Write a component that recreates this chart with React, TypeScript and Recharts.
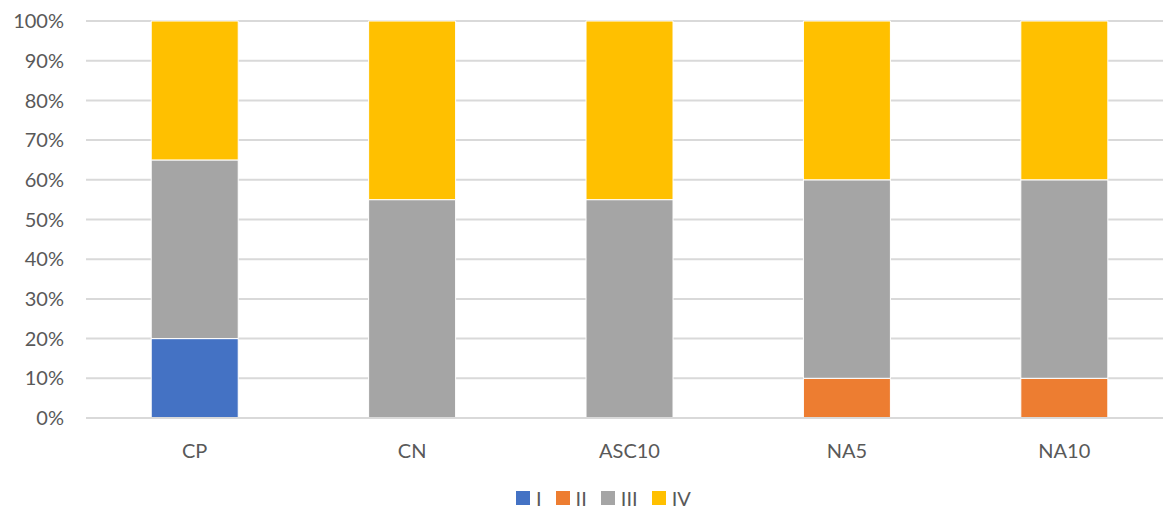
import React from "react";
import { BarChart, Bar, XAxis, YAxis, CartesianGrid, Legend } from "recharts";

const CATEGORIES = ["CP", "CN", "ASC10", "NA5", "NA10"];
const SERIES_I = [20, 0, 0, 0, 0];
const SERIES_II = [0, 0, 0, 10, 10];
const SERIES_III = [45, 55, 55, 50, 50];
const SERIES_IV = [35, 45, 45, 40, 40];
const Y_TICKS = [0, 10, 20, 30, 40, 50, 60, 70, 80, 90, 100];

const SERIES = [
  { key: "I", color: "#4472c4" },
  { key: "II", color: "#ed7d31" },
  { key: "III", color: "#a5a5a5" },
  { key: "IV", color: "#ffc000" },
];

const data = CATEGORIES.map((name, i) => ({
  name,
  I: SERIES_I[i],
  II: SERIES_II[i],
  III: SERIES_III[i],
  IV: SERIES_IV[i],
}));

const FONT = "Lato, 'Open Sans', sans-serif";
const TEXT = "#595959";

function LegendBox() {
  return (
    <div style={{ display: "flex", fontFamily: FONT, fontSize: 20, color: TEXT }}>
      {SERIES.map((s, i) => (
        <div
          key={s.key}
          style={{ display: "flex", alignItems: "center", marginRight: i < SERIES.length - 1 ? 14 : 0 }}
        >
          <span style={{ width: 14, height: 14, background: s.color, display: "inline-block", marginRight: 6 }} />
          <span>{s.key}</span>
        </div>
      ))}
    </div>
  );
}

export default function App() {
  return (
    <BarChart
      width={1163}
      height={503}
      data={data}
      margin={{ top: 13, right: -2, left: 0, bottom: 0 }}
      barCategoryGap="30%"
      style={{ fontFamily: FONT }}
    >
      <CartesianGrid vertical={false} stroke="#d9d9d9" strokeWidth={2} />
      <XAxis
        dataKey="name"
        axisLine={{ stroke: "#d9d9d9", strokeWidth: 2 }}
        tickLine={false}
        tickSize={0}
        tickMargin={26}
        height={69}
        tick={{ fill: TEXT, fontSize: 20 }}
      />
      <YAxis
        domain={[0, 100]}
        ticks={Y_TICKS}
        interval={0}
        axisLine={false}
        tickLine={false}
        tickSize={0}
        tickMargin={22}
        width={78}
        tickFormatter={(v) => `${v}%`}
        tick={{ fill: TEXT, fontSize: 20 }}
      />
      <Legend
        verticalAlign="bottom"
        content={() => <LegendBox />}
        wrapperStyle={{ top: 478, left: 508, width: "auto" }}
      />
      {SERIES.map((s) => (
        <Bar
          key={s.key}
          dataKey={s.key}
          stackId="a"
          fill={s.color}
          stroke="#ffffff"
          strokeWidth={1}
          isAnimationActive={false}
        />
      ))}
    </BarChart>
  );
}
